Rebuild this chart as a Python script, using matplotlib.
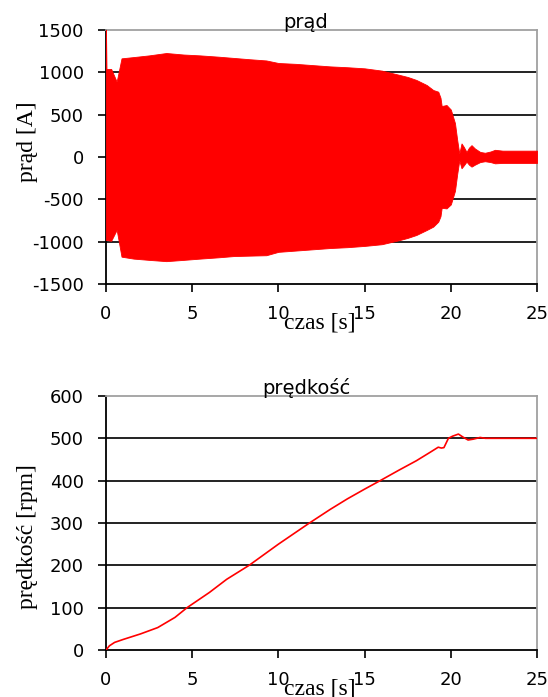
import matplotlib
matplotlib.use('Agg')
import matplotlib.pyplot as plt

plt.rcParams['axes.unicode_minus'] = False

# --- prąd: envelope of the current oscillation ---
t_env = [0, 0.03, 0.3, 0.62, 0.9, 1.6, 2.5, 3.5, 4.5, 5.45, 6.5, 7.4, 8.3, 9.3,
         10, 11, 12, 13, 14, 15, 16, 17.05, 17.5, 18.0, 18.6, 18.98, 19.27,
         19.4, 19.47, 19.75, 20.0, 20.24, 20.37, 20.49, 20.62, 20.75, 20.91,
         21.05, 21.2, 21.4, 21.7, 21.98, 22.3, 22.56, 23, 25]
i_upper = [1500, 1040, 1040, 890, 1165, 1180, 1200, 1228, 1210, 1200, 1185, 1170,
           1155, 1140, 1110, 1100, 1085, 1070, 1060, 1047, 1020, 968, 945, 910,
           850, 791, 771, 700, 602, 614, 560, 400, 200, 40, 160, 120, 60,
           110, 140, 100, 60, 50, 65, 85, 75, 75]
i_lower = [-980, -980, -990, -860, -1177, -1200, -1215, -1230, -1215, -1200, -1185,
           -1170, -1165, -1160, -1120, -1105, -1090, -1075, -1065, -1050, -1030,
           -980, -955, -921, -862, -822, -764, -700, -600, -607, -560, -400,
           -200, -40, -133, -100, -55, -90, -114, -90, -60, -50, -60, -75, -70, -70]

# --- prędkość ---
t_speed = [0, 0.2, 0.5, 1, 2, 3, 4, 4.7, 6, 7, 8.3, 10, 11.8, 13, 14, 15, 15.9,
           17, 18, 18.8, 19.27, 19.45, 19.6, 19.86, 20.1, 20.44, 20.7, 21.0, 21.3,
           21.7, 22.0, 25]
speed = [0, 10, 18, 25, 38, 53, 77, 100, 136, 167, 200, 250, 300, 332, 357, 380,
         400, 425, 447, 467, 479, 477, 478, 500, 505, 510, 503, 496, 498, 502, 500, 500]

x_ticks = [0, 5, 10, 15, 20, 25]
i_ticks = [-1500, -1000, -500, 0, 500, 1000, 1500]
v_ticks = [0, 100, 200, 300, 400, 500, 600]

RED = '#ff0000'
TICK_FONT = dict(family='DejaVu Sans', size=13)
LABEL_FONT = dict(family='Liberation Serif', size=17)

fig = plt.figure(figsize=(5.48, 6.97), dpi=100)
ax1 = fig.add_axes([0.1934, 0.5925, 0.7866, 0.3645])
ax2 = fig.add_axes([0.1934, 0.0674, 0.7866, 0.3645])


def style(ax, yticks, title, ylabel, ylab_y):
    ax.set_xlim(0, 25)
    ax.set_ylim(yticks[0], yticks[-1])
    ax.set_xticks(x_ticks)
    ax.set_yticks(yticks)
    ax.set_xticklabels([str(v) for v in x_ticks], fontdict=TICK_FONT)
    ax.set_yticklabels([str(v) for v in yticks], fontdict=TICK_FONT)
    ax.tick_params(direction='out', length=6, width=1.2, pad=9, color='black')
    ax.tick_params(axis='y', pad=10)
    for y in yticks[1:-1]:
        ax.axhline(y, color='#222222', lw=1.4, zorder=1)
    for side in ('left', 'bottom'):
        ax.spines[side].set_color('black')
        ax.spines[side].set_linewidth(1.3)
    for side in ('top', 'right'):
        ax.spines[side].set_color('#a0a0a0')
        ax.spines[side].set_linewidth(1.3)
    ax.text(0.464, 1.008, title, transform=ax.transAxes, ha='center',
            va='baseline', family='DejaVu Sans', fontsize=14)
    ax.set_ylabel(ylabel, fontdict=LABEL_FONT)
    ax.yaxis.set_label_coords(-0.183, ylab_y)
    ax.set_xlabel('czas [s]', fontdict=LABEL_FONT)
    ax.xaxis.set_label_coords(0.497, -0.154)
    ax.xaxis.label.set_va('center')
    ax.yaxis.label.set_va('center')


ax1.fill_between(t_env, i_lower, i_upper, color=RED, lw=0.6, zorder=3)
style(ax1, i_ticks, 'prąd', 'prąd [A]', 0.559)

ax2.plot(t_speed, speed, color=RED, lw=1.2, zorder=3)
style(ax2, v_ticks, 'prędkość', 'prędkość [rpm]', 0.445)

fig.savefig('out.png', dpi=100)
